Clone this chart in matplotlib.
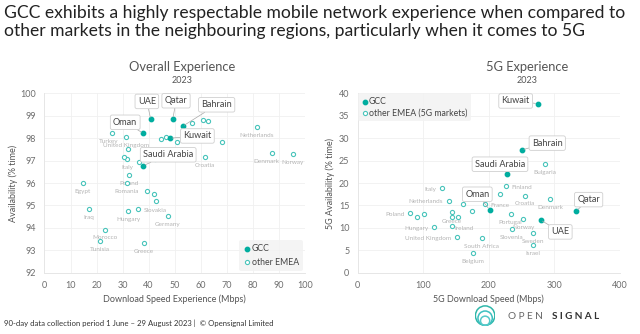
import numpy as np
import matplotlib
matplotlib.use('Agg')
import matplotlib.pyplot as plt
from matplotlib.patches import Circle

plt.rcParams['font.family'] = ['Lato', 'DejaVu Sans']

# ---- Overall experience (download speed vs availability) ----
gcc_names = ["UAE", "Qatar", "Bahrain", "Oman", "Kuwait", "Saudi Arabia"]
gcc_speed = [40.8, 49.3, 53.0, 37.9, 48.2, 37.8]
gcc_avail = [98.84, 98.87, 98.53, 98.22, 98.00, 96.77]

emea_names = ["Turkey", "United Kingdom", "Italy", "Poland", "Romania", "Egypt",
              "Netherlands", "Denmark", "Norway", "Croatia", "Iraq", "Hungary",
              "Slovakia", "Germany", "Morocco", "Tunisia", "Greece",
              "", "", "", "", "", "", "", "", "", "", "", "", "", ""]
emea_speed = [25.8, 31.3, 31.8, 32.4, 31.5, 14.7,
              81.6, 87.3, 95.4, 61.7, 17.2, 32.1,
              35.9, 47.3, 23.1, 21.3, 38.3,
              56.5, 61.0, 62.8, 44.7, 46.5, 50.9, 68.0, 31.9, 30.5, 36.2, 42.4,
              39.5, 42.2, 42.8]
emea_avail = [98.24, 98.05, 97.07, 96.36, 95.98, 96.01,
              98.51, 97.32, 97.28, 97.17, 94.84, 94.76,
              94.84, 94.53, 93.92, 93.41, 93.34,
              98.69, 98.82, 98.76, 97.98, 98.04, 97.81, 97.83, 97.53, 97.15, 96.95, 97.06,
              95.64, 95.51, 95.21]

# ---- 5G experience ----
gcc5_names = ["Kuwait", "Bahrain", "Saudi Arabia", "Oman", "Qatar", "UAE"]
gcc5_speed = [274.5, 250.5, 227.2, 201.2, 333.3, 279.0]
gcc5_avail = [37.7, 27.4, 22.0, 14.05, 13.76, 11.75]

emea5_names = ["Bulgaria", "Finland", "Italy", "Netherlands", "France", "Croatia",
               "Denmark", "Poland", "Greece", "Portugal", "Hungary", "Ireland",
               "Norway", "Slovenia", "United Kingdom", "Sweden", "South Africa",
               "Israel", "Belgium", "", "", "", "", "", "", ""]
emea5_speed = [285.6, 226.1, 128.1, 138.8, 193.6, 255.1,
               293.2, 80.2, 143.3, 233.3, 116.3, 143.3,
               252.5, 235.3, 151.0, 266.8, 189.1,
               267.8, 175.8, 217.0, 160.6, 174.8, 143.3, 101.1, 90.9, 152.5]
emea5_avail = [24.3, 19.3, 18.8, 16.1, 15.3, 17.2,
               16.4, 13.4, 12.5, 13.16, 10.2, 10.34,
               11.9, 9.82, 7.96, 8.78, 7.81,
               6.18, 4.32, 17.5, 15.4, 13.76, 13.53, 13.16, 12.42, 12.42]

TEAL = "#00ad9f"
LIGHT_TEAL = "#49c4bb"
LABEL_GREY = "#b4b4b4"

# where the small country names sit relative to their dot (points, ha)
left_label_pos = {"Turkey": (-2, -6, "center"), "Slovakia": (4, -1, "left"),
                  "Denmark": (-4, -6, "center")}
right_label_pos = {"Finland": (4, -1, "left"), "Italy": (-4, -1, "right"),
                   "Netherlands": (-4, -1, "right"), "France": (4, -1, "left"),
                   "Poland": (-4, -1, "right"), "Ireland": (2, -1.5, "left"),
                   "Greece": (0, -3.5, "center"),
                   "Hungary": (-4, -1, "right"), "United Kingdom": (-4, -1, "right")}

# callout box centres, in data units
left_callouts = {"UAE": (39.3, 99.64), "Qatar": (50.5, 99.67), "Bahrain": (66.1, 99.49),
                 "Oman": (31.0, 98.71), "Kuwait": (58.7, 98.10),
                 "Saudi Arabia": (47.5, 97.26)}
right_callouts = {"Kuwait": (240.9, 38.3), "Bahrain": (289.1, 28.9),
                  "Saudi Arabia": (217.0, 24.2), "Oman": (182.4, 17.5),
                  "Qatar": (352.2, 16.3), "UAE": (309.0, 9.1)}


def style_axes(ax):
    ax.grid(True, color="#f0f0f0", lw=0.6)
    ax.set_axisbelow(True)
    for s in ["top", "right"]:
        ax.spines[s].set_visible(False)
    for s in ["left", "bottom"]:
        ax.spines[s].set_color("#e6e6e6")
        ax.spines[s].set_linewidth(0.7)
    ax.tick_params(length=0, labelsize=6.5, labelcolor="#6e6e6e", pad=6)


def draw_panel(ax, g_x, g_y, g_names, o_x, o_y, o_names, label_pos, callouts, other_label):
    ax.scatter(o_x, o_y, s=9, facecolor="white", edgecolor=LIGHT_TEAL, lw=0.8,
               zorder=3, label=other_label)
    ax.scatter(g_x, g_y, s=10, color=TEAL, zorder=4, label="GCC")
    for x, y, name in zip(o_x, o_y, o_names):
        if not name:
            continue
        dx, dy, ha = label_pos.get(name, (0, -6, "center"))
        ax.annotate(name, (x, y), xytext=(dx, dy), textcoords="offset points",
                    ha=ha, va="center", fontsize=4.6, color=LABEL_GREY, zorder=2)
    for x, y, name in zip(g_x, g_y, g_names):
        ax.annotate(name, (x, y), xytext=callouts[name], textcoords="data",
                    ha="center", va="center", fontsize=6.6, color="#444444", zorder=6,
                    bbox=dict(boxstyle="round,pad=0.3,rounding_size=0.2",
                              fc="white", ec="#d0d0d0", lw=0.6),
                    arrowprops=dict(arrowstyle="-", color="#a8a8a8", lw=0.5,
                                    shrinkA=0, shrinkB=1.5))


def style_legend(leg):
    leg.get_frame().set_facecolor("#f2f2f2")
    leg.get_frame().set_edgecolor("none")
    for t in leg.get_texts():
        t.set_color("#444444")


fig = plt.figure(figsize=(6.4, 3.34), dpi=100)

ax1 = fig.add_axes([0.0695, 0.1835, 0.407, 0.537])
style_axes(ax1)
draw_panel(ax1, gcc_speed, gcc_avail, gcc_names, emea_speed, emea_avail, emea_names,
           left_label_pos, left_callouts, "other EMEA")
ax1.set_xlim(0, 100)
ax1.set_ylim(92, 100)
ax1.set_xticks(np.arange(0, 101, 10))
ax1.set_yticks(np.arange(92, 101, 1))
ax1.set_xlabel("Download Speed Experience (Mbps)", fontsize=6.5, color="#555555", labelpad=3)
ax1.set_ylabel("Availability (% time)", fontsize=6.5, color="#555555", labelpad=2)
leg1 = ax1.legend(loc="lower right", fontsize=6.3, frameon=True, handletextpad=0.1,
                  borderaxespad=0.2, handlelength=0.8, labelspacing=0.5,
                  borderpad=0.5, reverse=True)
style_legend(leg1)

ax2 = fig.add_axes([0.5589, 0.1835, 0.4098, 0.537])
style_axes(ax2)
draw_panel(ax2, gcc5_speed, gcc5_avail, gcc5_names, emea5_speed, emea5_avail, emea5_names,
           right_label_pos, right_callouts, "other EMEA (5G markets)")
ax2.set_xlim(0, 400)
ax2.set_ylim(0, 40)
ax2.set_xticks(np.arange(0, 401, 100))
ax2.set_yticks(np.arange(0, 41, 5))
ax2.set_xlabel("5G Download Speed (Mbps)", fontsize=6.5, color="#555555", labelpad=3)
ax2.set_ylabel("5G Availability (% time)", fontsize=6.5, color="#555555", labelpad=3)
leg2 = ax2.legend(loc="upper left", fontsize=6.3, frameon=True, handletextpad=0.1,
                  borderaxespad=0.0, handlelength=0.8, labelspacing=0.3,
                  borderpad=0.4, reverse=True)
style_legend(leg2)

# headline and panel titles
fig.text(0.006, 0.985, "GCC exhibits a highly respectable mobile network experience when compared to\n"
         "other markets in the neighbouring regions, particularly when it comes to 5G",
         ha="left", va="top", fontsize=12.6, color="#222222", linespacing=1.12)
fig.text(0.284, 0.80, "Overall Experience", ha="center", va="center", fontsize=9.3, color="#555555")
fig.text(0.284, 0.76, "2023", ha="center", va="center", fontsize=6.5, color="#555555")
fig.text(0.823, 0.80, "5G Experience", ha="center", va="center", fontsize=9.3, color="#555555")
fig.text(0.823, 0.76, "2023", ha="center", va="center", fontsize=6.5, color="#555555")

# footer
fig.text(0.006, 0.033, "90-day data collection period 1 June \u2013 29 August 2023 |  \u00a9 Opensignal Limited",
         ha="left", va="center", fontsize=5.6, color="#333333")

# logo: nested rings resting on a common base, plus wordmark
logo = fig.add_axes([0.742, 0.02, 0.032, 0.07])
logo.set_xlim(-1, 1)
logo.set_ylim(-1, 1)
logo.set_aspect("equal")
logo.axis("off")
for r, c in zip([0.95, 0.7, 0.45], ["#2fb7a9", "#3cc0c0", "#55c9c9"]):
    logo.add_patch(Circle((0, -0.95 + r), r, fill=False, ec=c, lw=1.1))
fig.text(0.793, 0.052, "O P E N", ha="left", va="center", fontsize=7.2, color="#666666")
fig.text(0.862, 0.052, "S I G N A L", ha="left", va="center", fontsize=7.2,
         color="#333333", fontweight="bold")

fig.savefig("out.png", dpi=100)
